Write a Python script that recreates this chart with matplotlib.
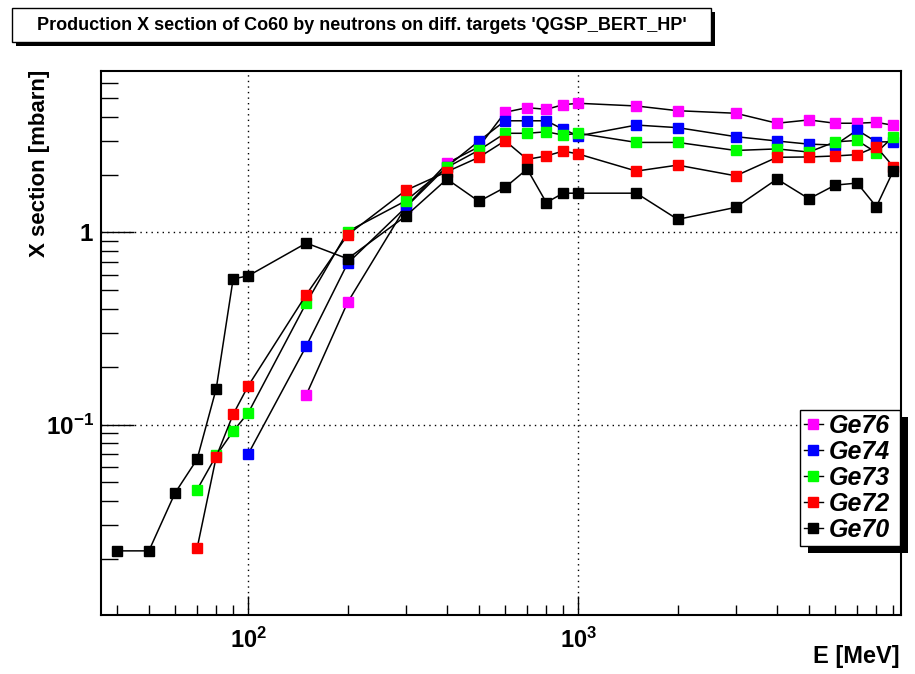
import numpy as np
import matplotlib
matplotlib.use("Agg")
import matplotlib.pyplot as plt
from matplotlib.patches import Rectangle
from matplotlib.lines import Line2D
from matplotlib.ticker import LogLocator, NullFormatter, FixedLocator

plt.rcParams['font.family'] = ['Liberation Sans', 'DejaVu Sans']
plt.rcParams['mathtext.fontset'] = 'custom'
plt.rcParams['mathtext.rm'] = 'Liberation Sans:bold'
plt.rcParams['mathtext.bf'] = 'Liberation Sans:bold'

# energies (MeV)
e70 = [40, 50, 60, 70, 80, 90, 100, 150, 200, 300, 400, 500, 600, 700, 800, 900, 1000,
       1500, 2000, 3000, 4000, 5000, 6000, 7000, 8000, 9000]
e72 = e70[3:]
e73 = e70[3:]
e74 = e70[6:]
e76 = e70[7:]

# cross sections (mbarn)
ge70 = [0.022, 0.022, 0.044, 0.066, 0.154, 0.573, 0.594, 0.88, 0.729, 1.216, 1.895, 1.45,
        1.715, 2.136, 1.43, 1.60, 1.60, 1.60, 1.169, 1.35, 1.895, 1.496, 1.763, 1.806, 1.36, 2.09]
ge72 = [0.0227, 0.068, 0.113, 0.159, 0.475, 0.97, 1.654, 2.07, 2.46, 3.0, 2.40, 2.50, 2.65,
        2.56, 2.085, 2.24, 1.97, 2.46, 2.47, 2.50, 2.54, 2.79, 2.2]
ge73 = [0.0458, 0.069, 0.0923, 0.115, 0.43, 1.01, 1.46, 2.18, 2.68, 3.28, 3.28, 3.34, 3.21,
        3.28, 2.94, 2.94, 2.67, 2.72, 2.62, 2.96, 3.01, 2.6, 3.15]
ge74 = [0.0703, 0.2566, 0.69, 1.35, 2.2, 2.99, 3.81, 3.81, 3.81, 3.44, 3.18, 3.62, 3.51,
        3.15, 2.99, 2.88, 2.85, 3.41, 2.96, 2.96]
ge76 = [0.143, 0.432, 1.36, 2.29, 2.79, 4.22, 4.46, 4.37, 4.62, 4.70, 4.55, 4.30, 4.17,
        3.70, 3.85, 3.70, 3.70, 3.74, 3.61]

series = [("Ge76", e76, ge76, "#ff00ff"),
          ("Ge74", e74, ge74, "#0000ff"),
          ("Ge73", e73, ge73, "#00ff00"),
          ("Ge72", e72, ge72, "#ff0000"),
          ("Ge70", e70, ge70, "#000000")]

W, H = 915, 674
fig = plt.figure(figsize=(W / 100, H / 100), dpi=100)
ax = fig.add_axes([101 / W, 1 - 615 / H, 800 / W, 544 / H])

# draw Ge70 last so it sits on top, like the original
for name, x, y, c in series:
    ax.plot(x, y, '-', color='black', lw=1.1, marker='s', ms=7.5,
            mfc=c, mec=c, label=name, zorder=3)

ax.set_xscale('log')
ax.set_yscale('log')
ax.set_xlim(35.8, 9500)
ax.set_ylim(0.0102, 6.92)

ax.xaxis.set_major_locator(FixedLocator([100, 1000]))
ax.xaxis.set_minor_locator(LogLocator(base=10, subs=np.arange(2, 10)))
ax.xaxis.set_minor_formatter(NullFormatter())
ax.yaxis.set_major_locator(FixedLocator([0.1, 1]))
ax.yaxis.set_minor_locator(LogLocator(base=10, subs=np.arange(2, 10)))
ax.yaxis.set_minor_formatter(NullFormatter())
ax.set_xticklabels([r'$\mathbf{10^{2}}$', r'$\mathbf{10^{3}}$'])
ax.set_yticklabels([r'$\mathbf{10^{-1}}$', r'$\mathbf{1}$'])

ax.tick_params(axis='x', which='major', direction='in', length=14, width=1, labelsize=17, pad=9)
ax.tick_params(axis='x', which='minor', direction='in', length=7, width=1)
ax.tick_params(axis='y', which='major', direction='in', length=24, width=1, labelsize=17.5, pad=5)
ax.tick_params(axis='y', which='minor', direction='in', length=12, width=1)
for lab in ax.get_xticklabels() + ax.get_yticklabels():
    lab.set_fontweight('bold')

ax.grid(True, which='major', color='black', linestyle=(0, (1, 3)), lw=1)
for s in ax.spines.values():
    s.set_linewidth(1.5)

# axis titles, placed like ROOT does (right / top aligned)
fig.text(900 / W, 1 - 656 / H, 'E [MeV]', ha='right', va='center',
         fontsize=17, fontweight='bold')
fig.text(40 / W, 1 - 70 / H, 'X section [mbarn]', ha='center', va='top',
         rotation=90, fontsize=16, fontweight='bold')

# legend with solid shadow
handles = [Line2D([0], [0], color='black', lw=1, marker='s', ms=7.5, mfc=c, mec=c)
           for _, _, _, c in series]
leg = fig.legend(handles, [s[0] for s in series], loc='upper left',
                 bbox_to_anchor=(800 / W, 1 - 546 / H, 100 / W, 136 / H),
                 bbox_transform=fig.transFigure, mode='expand',
                 frameon=True, fancybox=False, edgecolor='black', framealpha=1,
                 handlelength=0.75, handletextpad=0.25, borderpad=0.15, borderaxespad=0,
                 labelspacing=0.08,
                 prop={'weight': 'bold', 'style': 'italic', 'size': 18})
leg.get_frame().set_linewidth(1)
leg.set_zorder(5)

fig.canvas.draw()
bb = leg.get_window_extent().transformed(fig.transFigure.inverted())
fig.patches.append(Rectangle((bb.x0 + 8 / W, bb.y0 - 7 / H), bb.width, bb.height,
                             transform=fig.transFigure, facecolor='black',
                             edgecolor='none', zorder=4))

# title box with shadow
tx0, ty0, tx1, ty1 = 12, 8, 711, 42
fig.patches.append(Rectangle((tx0 / W + 4 / W, 1 - ty1 / H - 4 / H), (tx1 - tx0) / W,
                             (ty1 - ty0) / H, transform=fig.transFigure,
                             facecolor='black', edgecolor='none', zorder=1))
fig.patches.append(Rectangle((tx0 / W, 1 - ty1 / H), (tx1 - tx0) / W, (ty1 - ty0) / H,
                             transform=fig.transFigure, facecolor='white',
                             edgecolor='black', lw=1, zorder=2))
fig.text((tx0 + tx1) / 2 / W, 1 - (ty0 + ty1) / 2 / H,
         "Production X section of Co60 by neutrons on diff. targets 'QGSP_BERT_HP'",
         ha='center', va='center', fontsize=13, fontweight='bold', zorder=3)

fig.savefig('out.png', dpi=100)
